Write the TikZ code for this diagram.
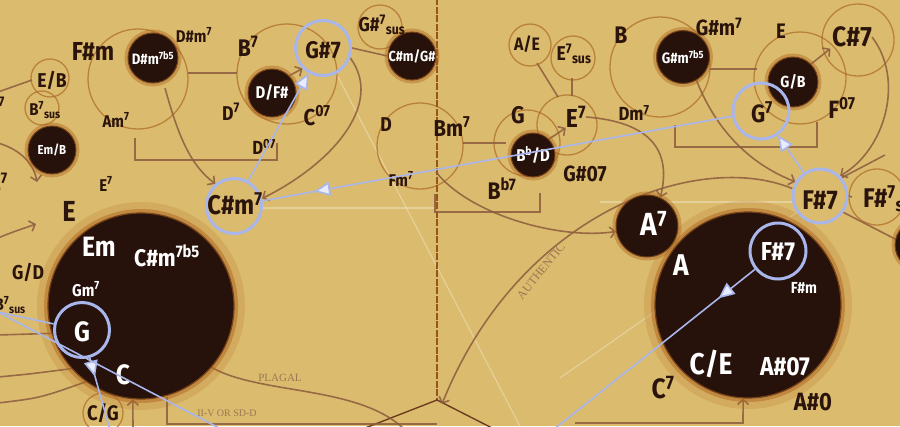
\documentclass[tikz,border=0pt]{standalone}
\usepackage{fontspec}
\setmainfont{Fira Sans}[FakeStretch=0.88]
\newfontfamily\capsf{Liberation Serif}
\usetikzlibrary{arrows.meta,decorations.markings}
\pgfdeclarelayer{back}
\pgfsetlayers{back,main}
\definecolor{bgc}{RGB}{219,188,110}
\definecolor{ink}{RGB}{42,20,12}
\definecolor{darkfill}{RGB}{38,18,10}
\definecolor{glow}{RGB}{176,104,34}
\definecolor{glowdark}{RGB}{120,66,24}
\definecolor{ringblue}{RGB}{168,182,236}
\definecolor{headblue}{RGB}{232,236,252}
\definecolor{connc}{RGB}{140,92,62}
\definecolor{orng}{RGB}{172,104,36}
\definecolor{faintlab}{RGB}{155,118,82}
\definecolor{vline}{RGB}{150,85,25}
\definecolor{darkline}{RGB}{110,60,30}
\newcommand\chup[1]{\textsuperscript{#1}}
\newcommand\chdn[1]{\textsubscript{#1}}
\begin{document}
\begin{tikzpicture}[x=1pt,y=-1pt,
  lab/.style={font=\fontsize{#1}{#1}\selectfont\bfseries, text=ink, inner sep=0pt},
  wlab/.style={font=\fontsize{#1}{#1}\selectfont\bfseries, text=white, inner sep=0pt},
  dk/.style={circle, inner sep=0pt, minimum size=#1, fill=darkfill, draw=glowdark, line width=1pt,
    preaction={draw=glow, line width=7pt, draw opacity=.45}},
  dkbig/.style={circle, inner sep=0pt, minimum size=#1, fill=darkfill, draw=glowdark, line width=1.2pt,
    preaction={draw=glow, line width=22pt, draw opacity=.2},
    preaction={draw=glow, line width=8pt, draw opacity=.5}},
  bring/.style={circle, inner sep=0pt, minimum size=#1, draw=ringblue, line width=3pt},
  oc/.style={draw=orng, line width=1.3pt, opacity=.7},
  conn/.style={draw=connc, line width=1.6pt, opacity=.85},
  carr/.style={conn, -{Straight Barb[length=5pt,width=11pt]}},
  bline/.style={draw=ringblue, line width=1.6pt},
  bhead/.style={postaction={decorate, decoration={markings, mark=at position #1 with
    {\arrow{Triangle[length=16pt,width=14pt,color=ringblue,fill=headblue]}}}}},
  btip/.style={-{Triangle[length=16pt,width=14pt,color=ringblue,fill=headblue]}},
  faint/.style={draw=white, line width=1.2pt, opacity=.3},
  flab/.style={font=\capsf\fontsize{#1}{#1}\selectfont, text=faintlab, inner sep=0pt},
]
\useasboundingbox (0,0) rectangle (900,426);

% free-end coordinates
\coordinate (apex) at (437,400);
\coordinate (vtop) at (437,-2);
\coordinate (pentL) at (360,430);
\coordinate (pentR) at (496,430);
\coordinate (authEnd) at (442,404);
\coordinate (lA) at (-2,312);
\coordinate (lB) at (219,428);
\coordinate (gEnd) at (110,430);
\coordinate (fEnd) at (553,430);
\coordinate (ffEnd) at (560,378);
\coordinate (gsEnd) at (522,430);
\coordinate (plEnd) at (405,430);
\coordinate (upL) at (133,430);
\coordinate (boxR0) at (575,423);
\coordinate (boxR1) at (743,423);
\coordinate (lc1s) at (-2,143);
\coordinate (lc1e) at (37,182);
\coordinate (lc2s) at (-2,238);
\coordinate (lc2e) at (36,224);
\coordinate (l3) at (-2,335);
\coordinate (l4) at (-2,377);
\coordinate (l5) at (-2,403);
\coordinate (dsmOut) at (165,88);
\coordinate (bmOut) at (436,172);
\coordinate (fl1) at (262,208);
\coordinate (fl2) at (437,208);
\coordinate (fl3) at (600,202);
\coordinate (fl4) at (795,202);

% dark circles
\node[dkbig=186pt] (bigL) at (141,306) {};
\node[dkbig=186pt] (bigR) at (748,305) {};
\node[dk=50pt] (cdsm) at (153,58) {};
\node[dk=48pt] (cdfs) at (272,93) {};
\node[dk=48pt] (ccsmgs) at (412,56) {};
\node[dk=48pt] (cemb) at (52,150) {};
\node[dk=44pt] (cbbd) at (533,155) {};
\node[dk=53pt] (cgsm) at (683,57) {};
\node[dk=50pt] (cgb) at (793,82) {};
\node[dk=62pt] (ca7) at (647,226) {};
\node[dk=50pt] (cedge) at (920,245) {};

% blue rings
\node[bring=55pt] (rgs7) at (323,48) {};
\node[bring=55pt] (rcsm7) at (234,206) {};
\node[bring=56pt] (rg7) at (761,111) {};
\node[bring=54pt] (rf7o) at (820,196) {};
\node[bring=56pt] (rf7i) at (778,251) {};
\node[bring=55pt] (rgL) at (82,330) {};

% labels, left
\node[lab=20, anchor=east] (tl1) at (5,106) {B\chup{7}};
\node[lab=22, anchor=east] (tl2) at (8,182) {E\chup{7}};
\node[lab=17, anchor=east] (tl3) at (26,305) {B\chup{7}\chdn{sus}};
\node[lab=26] (tfsm) at (93,51) {F\#m};
\node[wlab=15] (tdsm) at (153,58) {D\#m\chup{7b5}};
\node[lab=17] (tdsm7) at (194,35) {D\#m\chup{7}};
\node[lab=20] (teb) at (52,80) {E/B};
\node[lab=17] (tb7sus) at (45,110) {B\chup{7}\chdn{sus}};
\node[lab=17] (tam7) at (116,120) {Am\chup{7}};
\node[wlab=13] (temb) at (52,150) {Em/B};
\node[lab=17] (te7L) at (106,184) {E\chup{7}};
\node[lab=29] (teL) at (69,211) {E};
\node[wlab=28] (temL) at (99,247) {Em};
\node[wlab=24] (tcsm7b5) at (167,256) {C\#m\chup{7b5}};
\node[wlab=17] (tgm7) at (86,289) {Gm\chup{7}};
\node[lab=20] (tgd) at (28,272) {G/D};
\node[wlab=28] (tgL) at (82,332) {G};
\node[wlab=28] (tcL) at (123,375) {C};
\node[lab=21] (tcg) at (103,413) {C/G};
% labels, centre-left
\node[lab=24] (tb7) at (248,46) {B\chup{7}};
\node[lab=24] (tgs7) at (323,50) {G\#7};
\node[lab=20] (tgs7sus) at (382,25) {G\#\chup{7}\chdn{sus}};
\node[wlab=14.5] (tcsmgs) at (412,56) {C\#m/G\#};
\node[wlab=17] (tdfs) at (272,93) {D/F\#};
\node[lab=20] (td7) at (231,112) {D\chup{7}};
\node[lab=23] (tc07) at (317,116) {C\chup{07}};
\node[lab=19] (td07) at (264,147) {D\chup{07}};
\node[lab=20] (tdM) at (386,125) {D};
\node[lab=23] (tbm7) at (452,127) {Bm\chup{7}};
\node[lab=17] (tfm7) at (401,179) {Fm\chup{7}};
\node[lab=27] (tcsm7) at (235,204) {C\#m\chup{7}};
% labels, centre-right
\node[lab=18] (tae) at (527,44) {A/E};
\node[lab=20] (te7sus) at (574,54) {E\chup{7}\chdn{sus}};
\node[lab=24] (tbR) at (621,35) {B};
\node[lab=24] (tgC) at (518,115) {G};
\node[lab=26] (te7C) at (576,117) {E\chup{7}};
\node[lab=19] (tdm7) at (634,113) {Dm\chup{7}};
\node[wlab=17] (tbbd) at (533,155) {B\chup{b}/D};
\node[lab=22] (tgs07) at (585,174) {G\#07};
\node[lab=24] (tbb7) at (502,189) {B\chup{b7}};
% labels, right
\node[lab=22] (tgsm7) at (719,27) {G\#m\chup{7}};
\node[lab=21] (teR) at (781,31) {E};
\node[lab=28] (tcs7) at (852,37) {C\#7};
\node[wlab=15] (tgsm) at (683,57) {G\#m\chup{7b5}};
\node[wlab=16] (tgb) at (793,82) {G/B};
\node[lab=25] (tg7) at (762,112) {G\chup{7}};
\node[lab=25] (tf07) at (842,108) {F\chup{07}};
\node[lab=27] (tf7o) at (820,200) {F\#7};
\node[lab=27, anchor=west] (tf7sus) at (863,199) {F\#\chup{7}\chdn{sus}};
\node[wlab=32] (ta7) at (654,223) {A\chup{7}};
\node[wlab=30] (taR) at (681,265) {A};
\node[wlab=26] (tf7i) at (778,252) {F\#7};
\node[wlab=16] (tfsmR) at (804,288) {F\#m};
\node[wlab=30] (tce) at (711,364) {C/E};
\node[wlab=26] (tas07) at (785,367) {A\#07};
\node[lab=28] (tc7) at (663,388) {C\chup{7}};
\node[lab=25] (tas0) at (813,402) {A\#0};
% faint serif labels
\node[flab=12, rotate=51] (tauth) at (541,271) {AUTHENTIC};
\node[flab=11] (tplag) at (280,378) {PLAGAL};
\node[flab=10] (tiiv) at (227,413) {II-V OR SD-D};

\begin{pgfonlayer}{back}
  \fill[bgc] (0,0) rectangle (900,426);
  % faint light guide lines
  \draw[faint] (rgs7) -- (gsEnd);
  \draw[faint] (fl1) -- (fl2);
  \draw[faint] (fl3) -- (fl4);
  \draw[faint] (rf7o) -- (ffEnd);
  % cluster circles
  \draw[oc] (138,79) circle[radius=50];
  \draw[oc] (287,74) circle[radius=50];
  \draw[oc] (420,146) circle[radius=43];
  \draw[oc] (567,125) circle[radius=30];
  \draw[oc] (527,143) circle[radius=33];
  \draw[oc] (530,45) circle[radius=21];
  \draw[oc] (573,58) circle[radius=22];
  \draw[oc] (660,67) circle[radius=50];
  \draw[oc] (800,78) circle[radius=46];
  \draw[oc] (858,40) circle[radius=36];
  \draw[oc] (877,197) circle[radius=28];
  \draw[oc] (380,27) circle[radius=22];
  \draw[oc] (50,78) circle[radius=19];
  \draw[oc] (42,108) circle[radius=17];
  \draw[oc] (103,413) circle[radius=20];
  % axis and pentagon
  \draw[draw=vline, line width=1.4pt, dash pattern=on 7pt off 1.5pt] (vtop) -- (apex);
  \draw[draw=darkline, line width=1.4pt] (pentL) -- (apex) -- (pentR);
  % brackets
  \draw[conn] (135,138) -- (135,160) -- (277,160) -- (277,143);
  \draw[conn] (435,194) -- (435,212) -- (540,212) -- (540,193);
  \draw[conn] (675,125) -- (675,147) -- (817,147) -- (817,122);
  \draw[conn] (167,397) -- (167,424) -- (437,424);
  % short links
  \draw[conn] (188,73) -- (237,73);
  \draw[conn] (rgs7.east) -- (ccsmgs.west);
  \draw[conn] (463,143) -- (506,143);
  \draw[conn] (710,69) -- (757,69);
  \draw[conn] (rf7o.east) -- (852,197);
  \draw[conn] (rf7o.40) -- (885,155);
  \draw[conn] (rf7o.-35) -- (897,240);
  \draw[conn] (537,63) -- (558,97);
  \draw[conn] (572,78) -- (572,96);
  \draw[conn] (-2,92) -- (32,80);
  \draw[conn] (l3) -- (bigL.197);
  \draw[conn] (l4) .. controls (30,374) .. (bigL.222);
  \draw[conn] (l5) .. controls (40,398) .. (bigL.234);
  % arrows
  \draw[carr] (rgs7.-20) .. controls (385,105) and (330,165) .. (rcsm7.15);
  \draw[carr] (dsmOut) .. controls (178,135) and (190,165) .. (rcsm7.130);
  \draw[carr] (cdfs.45) -- (rgs7.225);
  \draw[carr] (cbbd.45) -- (te7C.south west);
  \draw[carr, shorten >=2pt] (cgb.45) -- (tcs7.south west);
  \draw[carr] (te7C.east) .. controls (650,122) and (672,150) .. (ca7.65);
  \draw[carr] (cgsm.-60) .. controls (720,140) and (760,168) .. (rf7o.150);
  \draw[carr] (tcs7.east) .. controls (905,80) and (885,150) .. (rf7o.45);
  \draw[carr] (bmOut) .. controls (470,215) and (560,240) .. (ca7.190);
  \draw[carr] (rf7o.165) .. controls (700,150) and (520,210) .. (authEnd);
  \draw[conn] (bigL.-41) .. controls (260,395) and (360,385) .. (plEnd);
  \draw[carr] (upL) -- (bigL.-95);
  \draw[carr] (boxR0) -- (boxR1) -- (bigR.-93);
  \draw[carr] (lc1s) .. controls (22,150) and (34,165) .. (lc1e);
  \draw[carr] (lc2s) .. controls (12,232) and (25,228) .. (lc2e);
\end{pgfonlayer}

% blue progression lines
\draw[bline, btip] (rf7o) -- (rg7);
\draw[bline, bhead=.89] (rg7) -- (rcsm7);
\draw[bline, btip] (rcsm7) -- (rgs7);
\draw[bline, bhead=.18] (rf7i) -- (fEnd);
\draw[bline, bhead=.26] (rgL) -- (gEnd);
\draw[bline] (lA) -- (lB);
\draw[bline] (lA) -- (rgL);
\end{tikzpicture}
\end{document}
